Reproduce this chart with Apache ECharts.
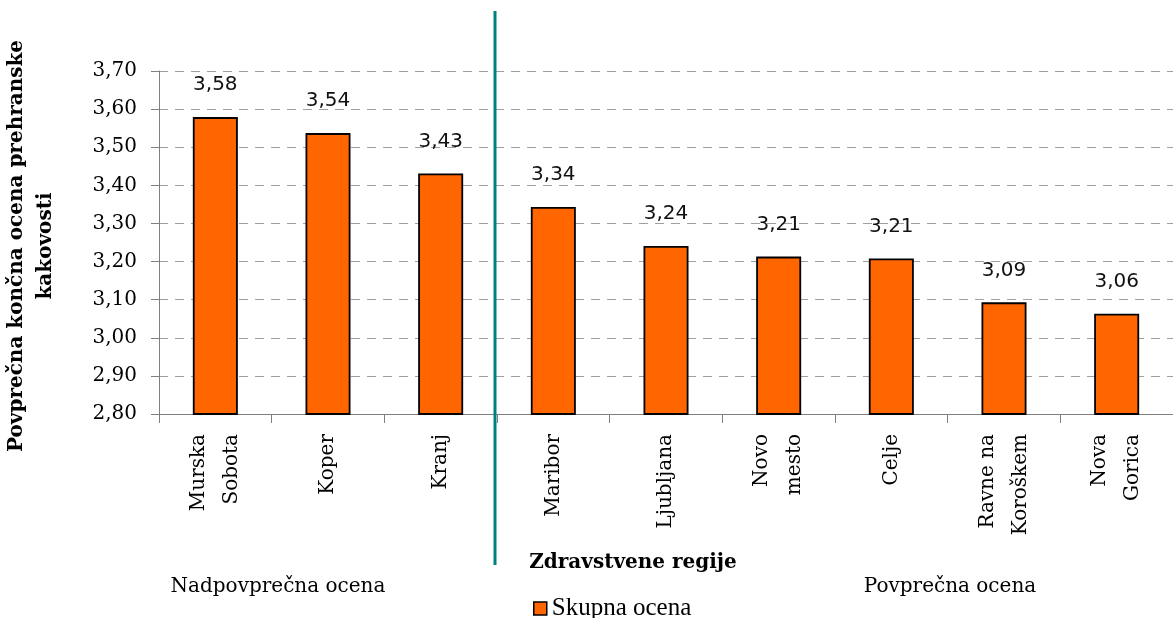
<!DOCTYPE html>
<html><head><meta charset="utf-8">
<script src="https://cdn.jsdelivr.net/npm/echarts@6/dist/echarts.min.js"></script>
<style>html,body{margin:0;padding:0;background:#fff}#c{width:1173px;height:618px}</style>
</head><body><div id="c"></div>
<script>
// ---- data ----
const categories = ['Murska\nSobota', 'Koper', 'Kranj', 'Maribor', 'Ljubljana', 'Novo\nmesto', 'Celje', 'Ravne na\nKoroškem', 'Nova\nGorica'];
const values = [3.579, 3.537, 3.431, 3.343, 3.241, 3.213, 3.208, 3.093, 3.063];
const seriesName = 'Skupna ocena';
const yMin = 2.8, yMax = 3.7, yStep = 0.1;
const aboveAverageCount = 3;
const groupLabels = ['Nadpovprečna ocena', 'Povprečna ocena'];
const yTitle = ['Povprečna končna ocena prehranske', 'kakovosti'];
const xTitle = 'Zdravstvene regije';

const fmt = v => v.toFixed(2).replace('.', ',');
const SERIF = '"DejaVu Serif", serif';

const chart = echarts.init(document.getElementById('c'), null, {renderer: 'canvas'});
const option = {
  animation: false,
  backgroundColor: '#fff',
  grid: {left: 159, right: -2, top: 71, bottom: 204, containLabel: false},
  legend: {
    data: [seriesName], left: 528, top: 591, icon: 'rect', itemWidth: 13, itemHeight: 13, itemGap: 3,
    textStyle: {fontFamily: '"Liberation Serif", serif', fontSize: 25, color: '#000'},
    itemStyle: {borderColor: '#000', borderWidth: 1.5}
  },
  xAxis: {
    type: 'category', data: categories, boundaryGap: true,
    axisLine: {show: true, lineStyle: {color: '#808080', width: 1}},
    axisTick: {show: true, length: 9, alignWithLabel: false, lineStyle: {color: '#808080'}},
    axisLabel: {interval: 0, rotate: 90, margin: 20, fontFamily: SERIF, fontSize: 20, lineHeight: 33, color: '#000'}
  },
  yAxis: {
    type: 'value', min: yMin, max: yMax, interval: yStep,
    axisLine: {show: true, lineStyle: {color: '#808080', width: 1}},
    axisTick: {show: true, length: 8, lineStyle: {color: '#808080'}},
    axisLabel: {formatter: fmt, margin: 22, fontFamily: SERIF, fontSize: 20, color: '#000'},
    splitLine: {show: true, lineStyle: {color: '#a0a0a0', type: [9, 7], width: 1}}
  },
  series: [{
    name: seriesName, type: 'bar', data: values, barWidth: 45,
    itemStyle: {color: '#FF6600', borderColor: '#000', borderWidth: 1.8},
    label: {show: true, position: 'top', distance: 22, formatter: p => fmt(p.value),
      fontFamily: '"DejaVu Sans", sans-serif', fontSize: 20, color: '#111'}
  }]
};
chart.setOption(option);

const xa = chart.convertToPixel({xAxisIndex: 0}, aboveAverageCount - 1);
const xb = chart.convertToPixel({xAxisIndex: 0}, aboveAverageCount);
const sepX = (xa + xb) / 2 - 2;
chart.setOption({
  graphic: [
    {type: 'line', shape: {x1: sepX, y1: 11, x2: sepX, y2: 565}, style: {stroke: '#008080', lineWidth: 3}, z: 10},
    {type: 'text', x: 17, y: 246, rotation: Math.PI / 2,
      style: {text: yTitle[0], font: 'bold 20px ' + SERIF, fill: '#000', align: 'center', verticalAlign: 'middle'}},
    {type: 'text', x: 46, y: 246, rotation: Math.PI / 2,
      style: {text: yTitle[1], font: 'bold 20px ' + SERIF, fill: '#000', align: 'center', verticalAlign: 'middle'}},
    {type: 'text', x: 633, y: 563,
      style: {text: xTitle, font: 'bold 20px ' + SERIF, fill: '#000', align: 'center', verticalAlign: 'middle'}},
    {type: 'text', x: 278, y: 587,
      style: {text: groupLabels[0], font: '20px ' + SERIF, fill: '#000', align: 'center', verticalAlign: 'middle'}},
    {type: 'text', x: 950, y: 587,
      style: {text: groupLabels[1], font: '20px ' + SERIF, fill: '#000', align: 'center', verticalAlign: 'middle'}}
  ]
});
</script></body></html>
